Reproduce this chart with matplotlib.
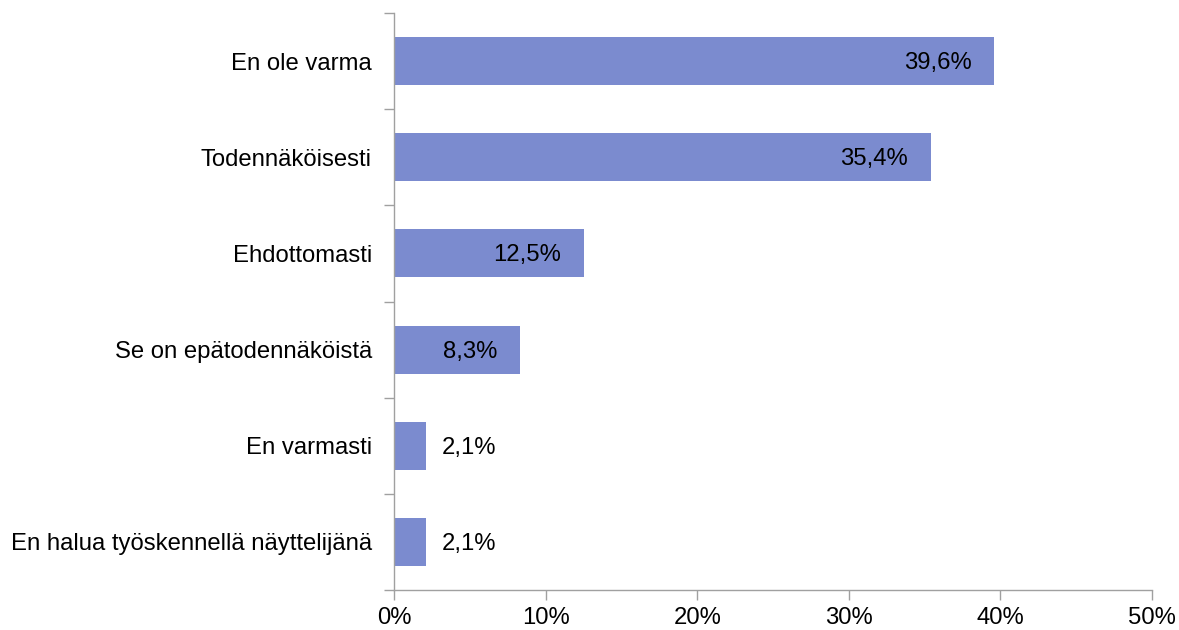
import matplotlib
matplotlib.use("Agg")
import matplotlib.pyplot as plt

categories = ["En ole varma", "Todennäköisesti", "Ehdottomasti",
              "Se on epätodennäköistä", "En varmasti",
              "En halua työskennellä näyttelijänä"]
values = [39.6, 35.4, 12.5, 8.3, 2.1, 2.1]
value_labels = ["39,6%", "35,4%", "12,5%", "8,3%", "2,1%", "2,1%"]
xticks = [0, 10, 20, 30, 40, 50]
xtick_labels = ["0%", "10%", "20%", "30%", "40%", "50%"]

plt.rcParams['font.family'] = ['Liberation Sans', 'DejaVu Sans']
FS = 17.2

fig = plt.figure(figsize=(11.79, 6.30), dpi=100)
ax = fig.add_axes([394/1179, 40/630, (1152-394)/1179, (617-40)/630])

n = len(categories)
ypos = list(range(n))
ax.barh(ypos, values, height=0.5, color="#7B8BCF", zorder=2)
ax.set_ylim(n - 0.5, -0.5)
ax.set_xlim(0, 50)

ax.set_yticks(ypos)
ax.set_yticklabels(categories, fontsize=FS)
ax.tick_params(axis='y', which='major', length=0, pad=16)
ax.set_yticks([i - 0.5 for i in range(n + 1)], minor=True)
ax.tick_params(axis='y', which='minor', length=7, color="#A0A0A0", width=1)

ax.set_xticks(xticks)
ax.set_xticklabels(xtick_labels, fontsize=FS)
ax.tick_params(axis='x', length=7, color="#A0A0A0", width=1, pad=5)

for side in ["top", "right"]:
    ax.spines[side].set_visible(False)
for side in ["left", "bottom"]:
    ax.spines[side].set_color("#A0A0A0")
    ax.spines[side].set_linewidth(1)

for y, v, lab in zip(ypos, values, value_labels):
    if v >= 5:
        ax.annotate(lab, (v, y), xytext=(-16.5, -1.5), textcoords="offset points",
                    ha="right", va="center", fontsize=FS, color="black")
    else:
        ax.annotate(lab, (v, y), xytext=(11.5, -1.5), textcoords="offset points",
                    ha="left", va="center", fontsize=FS, color="black")

fig.savefig("out.png", dpi=100, facecolor="white")
